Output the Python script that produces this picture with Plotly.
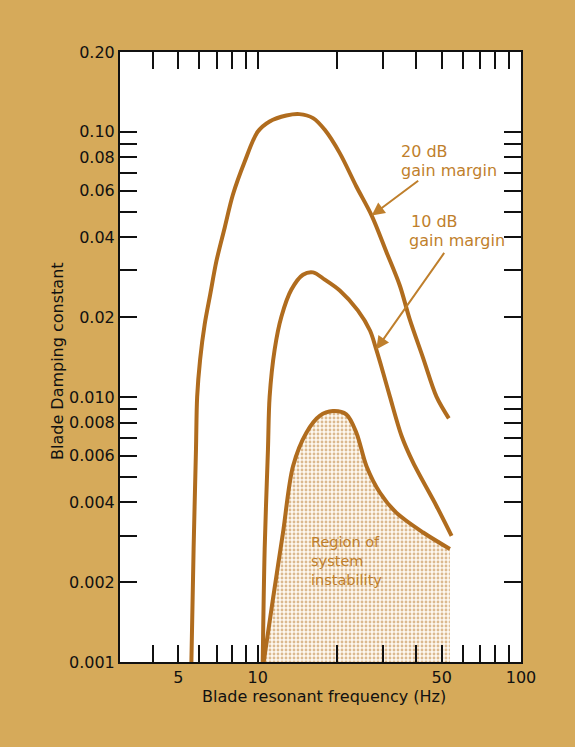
import numpy as np
import plotly.graph_objects as go

# ---------------- data ----------------
x_range = [3, 100]
y_range = [0.001, 0.2]

outer_f = [5.60, 5.71, 5.83, 5.89, 6.045, 6.29, 6.60, 6.97, 7.49, 8.05, 8.93, 10.0, 11.1, 12.85,
           14.4, 16.23, 17.98, 20.5, 23.7, 27.1, 30.9, 34.7, 37.8, 42.4, 47.8, 53.2]
outer_d = [0.00100, 0.00267, 0.00634, 0.0100, 0.01384, 0.01875, 0.0243, 0.0325, 0.0434, 0.0579,
           0.0773, 0.100, 0.1094, 0.1152, 0.1166, 0.1126, 0.1017, 0.0831, 0.0622, 0.0483,
           0.0350, 0.0262, 0.0196, 0.0141, 0.0100, 0.0083]

middle_f = [10.45, 10.63, 10.94, 11.1, 11.6, 12.31, 13.43, 14.86, 16.23, 17.98, 20.5, 24.0,
            26.7, 28.2, 29.95, 31.8, 35.2, 38.9, 47.8, 54.5]
middle_d = [0.00100, 0.00267, 0.00634, 0.0100, 0.0151, 0.0201, 0.0254, 0.0289, 0.0295, 0.0277,
            0.0252, 0.0212, 0.0178, 0.0151, 0.01234, 0.0100, 0.00712, 0.00566, 0.00387, 0.00299]

inner_f = [10.54, 11.43, 12.48, 13.62, 15.31, 17.2, 19.3, 21.7, 23.7, 25.9, 29.1, 33.6, 42.5, 53.7]
inner_d = [0.00100, 0.00173, 0.00308, 0.00548, 0.00733, 0.00848, 0.00884, 0.00859, 0.00733,
           0.00548, 0.00436, 0.00366, 0.00308, 0.00267]

x_ticks = [4, 5, 6, 7, 8, 9, 10, 20, 30, 40, 50, 60, 70, 80, 90, 100]
x_labels = {5: "5", 10: "10", 50: "50", 100: "100"}
y_ticks = [0.001, 0.002, 0.003, 0.004, 0.005, 0.006, 0.007, 0.008, 0.009, 0.01,
           0.02, 0.03, 0.04, 0.05, 0.06, 0.07, 0.08, 0.09, 0.1, 0.2]
y_labels = {0.001: "0.001", 0.002: "0.002", 0.004: "0.004", 0.006: "0.006", 0.008: "0.008",
            0.01: "0.010", 0.02: "0.02", 0.04: "0.04", 0.06: "0.06", 0.08: "0.08",
            0.1: "0.10", 0.2: "0.20"}
grid_x = [10]
grid_y = [0.1, 0.01]

# ---------------- style ----------------
BG = "#d6aa5a"
CURVE = "#b06c1e"
TEXT_BROWN = "#bf7f2c"
FONT = "DejaVu Sans"

fig = go.Figure()

# shaded region of instability
fig.add_trace(go.Scatter(
    x=inner_f + [inner_f[-1], inner_f[0]],
    y=inner_d + [y_range[0], y_range[0]],
    mode="none", fill="toself",
    fillcolor="#fcf5ea",
    fillpattern=dict(shape=".", fgcolor="#b97a2e", bgcolor="#fdf8f0", size=4, solidity=0.4),
    hoverinfo="skip", showlegend=False,
))

for fx, dy in [(outer_f, outer_d), (middle_f, middle_d), (inner_f, inner_d)]:
    fig.add_trace(go.Scatter(
        x=fx, y=dy, mode="lines",
        line=dict(color=CURVE, width=4, shape="spline", smoothing=0.9),
        showlegend=False, hoverinfo="skip",
    ))

# grid lines (only at 10 Hz, 0.1 and 0.01)
shapes = []
for g in grid_x:
    shapes.append(dict(type="line", xref="x", yref="y domain", x0=np.log10(g), x1=np.log10(g),
                       y0=0, y1=1, line=dict(color="#111", width=1.5), layer="below"))
for g in grid_y:
    shapes.append(dict(type="line", xref="x domain", yref="y", y0=np.log10(g), y1=np.log10(g),
                       x0=0, x1=1, line=dict(color="#111", width=1.5), layer="below"))

# annotations
annotations = []
arrow_color = TEXT_BROWN
annotations.append(dict(x=np.log10(outer_f[19]), y=np.log10(outer_d[19]), xref="x", yref="y",
                        text="", showarrow=True, ax=48, ay=-36, arrowhead=2, arrowsize=1.3,
                        arrowwidth=2, arrowcolor=arrow_color))
annotations.append(dict(x=np.log10(middle_f[13]), y=np.log10(middle_d[13]), xref="x", yref="y",
                        text="", showarrow=True, ax=69, ay=-98, arrowhead=2, arrowsize=1.3,
                        arrowwidth=2, arrowcolor=arrow_color))


def px_to_paper(px, py):
    return (px - 120) / 401.0, (662 - py) / 610.0


def label(text, px, py, size=16, color=TEXT_BROWN, xanchor="left"):
    x, y = px_to_paper(px, py)
    annotations.append(dict(x=x, y=y, xref="paper", yref="paper", text=text, showarrow=False,
                            xanchor=xanchor, yanchor="middle", align="left",
                            font=dict(family=FONT, size=size, color=color)))


label("20 dB", 399, 151)
label("gain margin", 399, 170)
label("10 dB", 409, 222)
label("gain margin", 407, 240)
label("Region of<br>system<br>instability", 309, 561, size=14.5)

# axis titles
xt, yt = px_to_paper(323.5, 696)
annotations.append(dict(x=xt, y=yt, xref="paper", yref="paper", text="Blade resonant frequency (Hz)",
                        showarrow=False, xanchor="center", yanchor="middle",
                        font=dict(family=FONT, size=16, color="#111")))
xt, yt = px_to_paper(58, 361)
annotations.append(dict(x=xt, y=yt, xref="paper", yref="paper", text="Blade Damping constant",
                        showarrow=False, xanchor="center", yanchor="middle", textangle=-90,
                        font=dict(family=FONT, size=16, color="#111")))

axis_common = dict(
    type="log", showgrid=False, zeroline=False, showline=True, linecolor="#111", linewidth=2,
    ticks="inside", ticklen=17, tickwidth=1.6, tickcolor="#111", mirror="ticks",
    tickfont=dict(family=FONT, size=16, color="#111"),
)

fig.update_layout(
    width=575, height=747, autosize=False,
    margin=dict(l=120, r=54, t=52, b=85),
    paper_bgcolor=BG, plot_bgcolor="white",
    xaxis=dict(range=[np.log10(x_range[0]), np.log10(x_range[1])],
               tickvals=x_ticks, ticktext=[x_labels.get(v, "") for v in x_ticks], **axis_common),
    yaxis=dict(range=[np.log10(y_range[0]), np.log10(y_range[1])],
               tickvals=y_ticks, ticktext=[y_labels.get(v, "") for v in y_ticks], **axis_common),
    shapes=shapes, annotations=annotations, showlegend=False,
)

fig.write_html("out.html")
